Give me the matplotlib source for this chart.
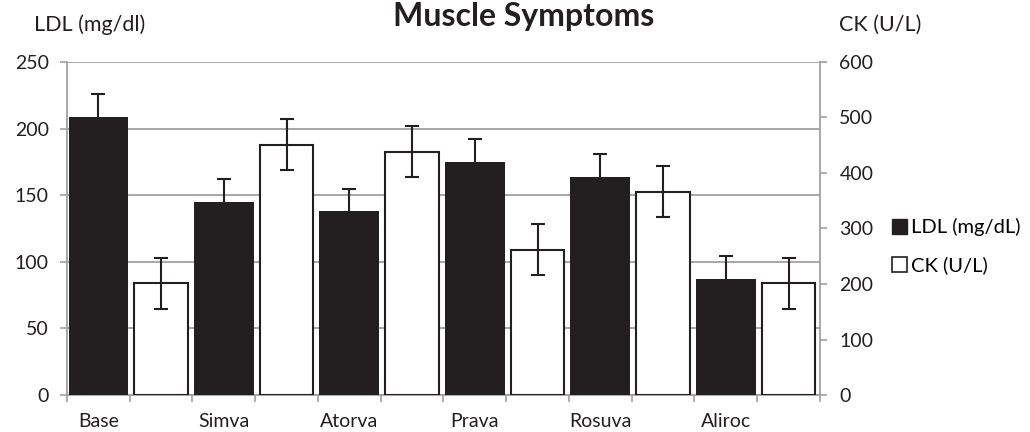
import numpy as np
import matplotlib
matplotlib.use("Agg")
from matplotlib import pyplot as plt
from matplotlib.patches import Patch

plt.rcParams['font.family'] = ['Lato', 'DejaVu Sans']

drugs = ['Base', 'Simva', 'Atorva', 'Prava', 'Rosuva', 'Aliroc']
ldl = [209, 145, 138, 175, 164, 87]
ldl_err = [17, 17, 17, 17, 17, 17]
ck = [201, 451, 438, 262, 366, 201]
ck_err = [46, 46, 46, 46, 46, 46]

dark = '#231f20'
grey = '#a0a0a0'

fig = plt.figure(figsize=(10.3, 4.32), dpi=100)
ax = fig.add_axes([0.065, 0.0856, 0.731, 0.771])
ax2 = ax.twinx()

# each drug gets two slots: LDL on the left axis, CK on the right axis
x = np.arange(len(drugs)) * 2
err_style = dict(ecolor=dark, elinewidth=1.5, capsize=5, capthick=1.5)
ax.bar(x, ldl, width=0.95, color=dark, yerr=ldl_err, error_kw=err_style, zorder=3)
ax2.bar(x + 1, ck, width=0.85, color='white', edgecolor=dark, linewidth=1.5,
        yerr=ck_err, error_kw=err_style, zorder=3)

ax.set_xlim(-0.5, 11.5)
ax.set_ylim(0, 250)
ax2.set_ylim(0, 600)
ax.set_yticks([0, 50, 100, 150, 200, 250])
ax2.set_yticks([0, 100, 200, 300, 400, 500, 600])

ax.set_xticks(x)
ax.set_xticklabels(drugs)
ax.set_xticks(np.arange(-0.5, 12, 1), minor=True)
ax.tick_params(axis='x', which='major', length=0, pad=13, labelsize=14, labelcolor=dark)
ax.tick_params(axis='x', which='minor', length=5, width=1.2, color=grey)
ax.tick_params(axis='y', length=5, width=1.2, color=grey, pad=8, labelsize=14, labelcolor=dark)
ax2.tick_params(axis='y', length=5, width=1.2, color=grey, pad=9, labelsize=14, labelcolor=dark)

ax.set_axisbelow(True)
ax.yaxis.grid(True, color=grey, linewidth=1.3)

for s in ['top', 'right']:
    ax.spines[s].set_visible(False)
for s in ['left', 'bottom']:
    ax.spines[s].set_color(grey)
    ax.spines[s].set_linewidth(1.3)
for s in ['top', 'left', 'bottom']:
    ax2.spines[s].set_visible(False)
ax2.spines['right'].set_color(grey)
ax2.spines['right'].set_linewidth(1.3)

fig.text(0.508, 0.94, 'Muscle Symptoms', ha='center', va='baseline',
         fontsize=23, fontweight='bold', color=dark)
fig.text(0.087, 0.942, 'LDL (mg/dl)', ha='center', va='center', fontsize=15.5, color=dark)
fig.text(0.855, 0.942, 'CK (U/L)', ha='center', va='center', fontsize=15.5, color=dark)

handles = [Patch(facecolor=dark, edgecolor=dark),
           Patch(facecolor='white', edgecolor=dark, linewidth=1.2)]
fig.legend(handles, ['LDL (mg/dL)', 'CK (U/L)'], loc='center left',
           bbox_to_anchor=(0.866, 0.43), frameon=False, fontsize=14.5,
           handlelength=0.75, handleheight=0.75, handletextpad=0.2,
           labelspacing=1.0, borderpad=0, borderaxespad=0)

plt.savefig('out.png')
